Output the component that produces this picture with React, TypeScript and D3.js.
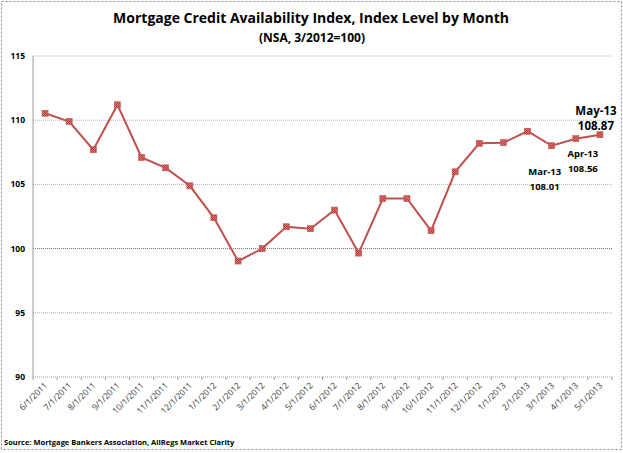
import React from "react";
import * as d3 from "d3";

const months = [
  "6/1/2011", "7/1/2011", "8/1/2011", "9/1/2011", "10/1/2011", "11/1/2011", "12/1/2011",
  "1/1/2012", "2/1/2012", "3/1/2012", "4/1/2012", "5/1/2012", "6/1/2012", "7/1/2012",
  "8/1/2012", "9/1/2012", "10/1/2012", "11/1/2012", "12/1/2012", "1/1/2013", "2/1/2013",
  "3/1/2013", "4/1/2013", "5/1/2013",
];
const mcai = [
  110.54, 109.9, 107.7, 111.2, 107.1, 106.29, 104.89,
  102.4, 99.03, 100.0, 101.7, 101.55, 103.0, 99.65,
  103.9, 103.9, 101.4, 105.98, 108.2, 108.25, 109.14,
  108.01, 108.56, 108.87,
];
const yTicks = [90, 95, 100, 105, 110, 115];
const annotations = [
  { month: "3/1/2013", name: "Mar-13", value: "108.01", dx: -7, dy: 29, gap: 15, size: 9.5 },
  { month: "4/1/2013", name: "Apr-13", value: "108.56", dx: 7, dy: 18.5, gap: 14.5, size: 9.5 },
  { month: "5/1/2013", name: "May-13", value: "108.87", dx: -4, dy: -20, gap: 15, size: 11.5 },
];

const W = 623;
const H = 453;
const M = { left: 33, right: 612, top: 56, bottom: 377 };
const FONT = "'Open Sans', 'Liberation Sans', sans-serif";

export default function App() {
  const x = d3.scaleBand<string>().domain(months).range([M.left, M.right]).padding(0);
  const y = d3.scaleLinear().domain([90, 115]).range([M.bottom, M.top]);
  const cx = (m: string) => (x(m) as number) + x.bandwidth() / 2;
  const line = d3
    .line<number>()
    .x((_, i) => cx(months[i]))
    .y((d) => y(d));

  return (
    <svg width={W} height={H} style={{ position: "absolute", left: 0, top: 0 }}>
      <defs>
        <pattern id="mk" width="2" height="2" patternUnits="userSpaceOnUse">
          <rect width="2" height="2" fill="#e07a78" />
          <rect width="1" height="1" fill="#b03a37" />
          <rect x="1" y="1" width="1" height="1" fill="#b03a37" />
        </pattern>
      </defs>
      <rect x={0} y={0} width={W} height={H} fill="#fff" />
      <rect x={1.5} y={1.5} width={620} height={448} fill="none" stroke="#8a8a8a" strokeDasharray="2,2" />

      <text x={311} y={23} textAnchor="middle" fontFamily={FONT} fontWeight="bold" fontSize={14} fill="#000">
        Mortgage Credit Availability Index, Index Level by Month
      </text>
      <text x={312} y={42} textAnchor="middle" fontFamily={FONT} fontWeight="bold" fontSize={12} fill="#000">
        (NSA, 3/2012=100)
      </text>

      {yTicks.map((t) =>
        t === 90 ? null : (
          <line
            key={"g" + t}
            x1={M.left}
            x2={M.right}
            y1={y(t)}
            y2={y(t)}
            stroke={t === 100 ? "#6e6e6e" : "#b0b0b0"}
            strokeWidth={1}
            strokeDasharray="1,1"
          />
        )
      )}
      {yTicks.map((t) => (
        <text
          key={"yl" + t}
          x={25}
          y={y(t) + 3}
          textAnchor="end"
          fontFamily={FONT}
          fontWeight="bold"
          fontSize={8.5}
          fill="#000"
        >
          {t}
        </text>
      ))}
      <line x1={M.left} x2={M.left} y1={M.top} y2={M.bottom} stroke="#9a9a9a" strokeWidth={1} />
      <line x1={M.left} x2={M.right} y1={M.bottom} y2={M.bottom} stroke="#9a9a9a" strokeWidth={1} strokeDasharray="1,1" />
      {months.map((m) => (
        <line
          key={"t" + m}
          x1={x(m) as number}
          x2={x(m) as number}
          y1={M.bottom}
          y2={M.bottom + 3}
          stroke="#9a9a9a"
        />
      ))}
      <line x1={M.right} x2={M.right} y1={M.bottom} y2={M.bottom + 3} stroke="#9a9a9a" />
      {months.map((m) => (
        <text
          key={"xl" + m}
          transform={`translate(${cx(m) + 3},${M.bottom + 9}) rotate(-45)`}
          textAnchor="end"
          fontFamily={FONT}
          fontSize={8.5}
          fill="#333"
        >
          {m}
        </text>
      ))}

      <path d={line(mcai) || ""} fill="none" stroke="#c0504d" strokeWidth={2} />
      {mcai.map((v, i) => (
        <rect
          key={"p" + i}
          x={cx(months[i]) - 3}
          y={y(v) - 3}
          width={6}
          height={6}
          fill="url(#mk)"
          stroke="#c0504d"
          strokeWidth={0.6}
        />
      ))}

      {annotations.map((a) => {
        const i = months.indexOf(a.month);
        const px = cx(a.month) + a.dx;
        const py = y(mcai[i]) + a.dy;
        return (
          <g key={a.name} fontFamily={FONT} fontWeight="bold" fontSize={a.size} fill="#000" textAnchor="middle">
            <text x={px} y={py}>{a.name}</text>
            <text x={px} y={py + a.gap}>{a.value}</text>
          </g>
        );
      })}

      <text x={4} y={445} fontFamily={FONT} fontWeight="bold" fontSize={7.5} fill="#000">
        Source: Mortgage Bankers Association, AllRegs Market Clarity
      </text>
    </svg>
  );
}
